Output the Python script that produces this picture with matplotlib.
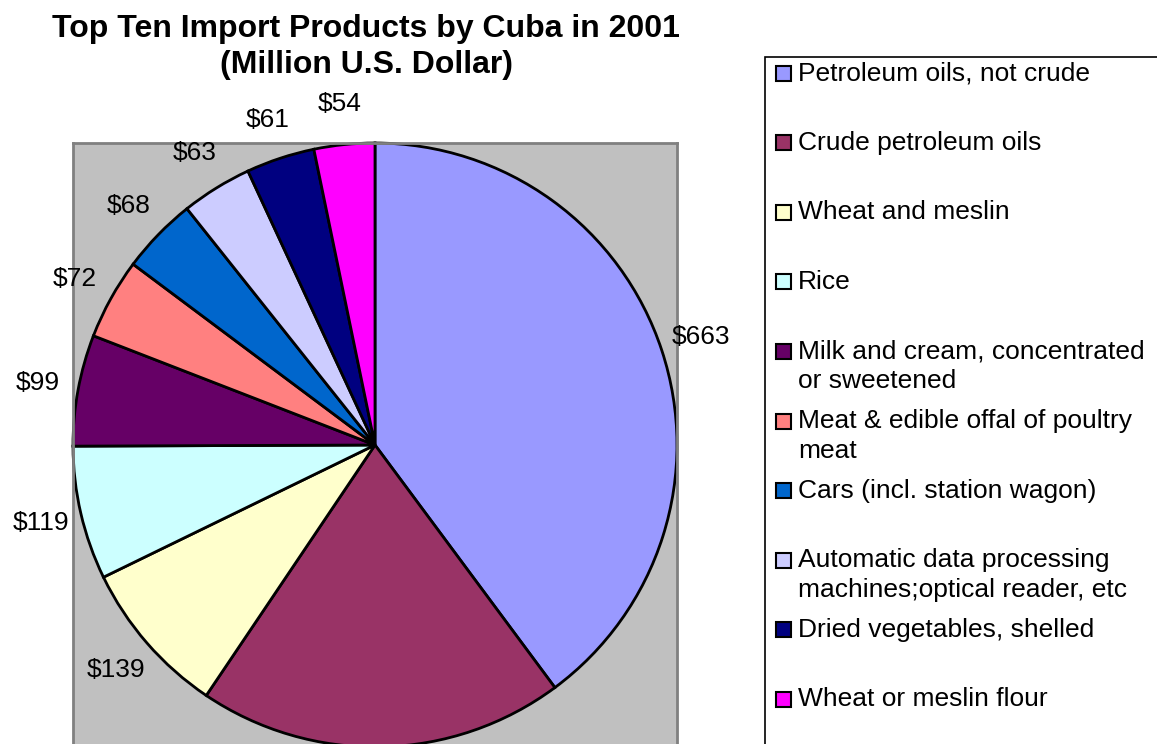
import numpy as np
import matplotlib.pyplot as plt
from matplotlib.patches import Rectangle

plt.rcParams['font.family'] = ['Liberation Sans', 'DejaVu Sans']

products = [
    'Petroleum oils, not crude',
    'Crude petroleum oils',
    'Wheat and meslin',
    'Rice',
    'Milk and cream, concentrated\nor sweetened',
    'Meat & edible offal of poultry\nmeat',
    'Cars (incl. station wagon)',
    'Automatic data processing\nmachines;optical reader, etc',
    'Dried vegetables, shelled',
    'Wheat or meslin flour',
]
values = [663, 326, 139, 119, 99, 72, 68, 63, 61, 54]
colors = ['#9999FF', '#993366', '#FFFFCC', '#CCFFFF', '#660066',
          '#FF8080', '#0066CC', '#CCCCFF', '#000080', '#FF00FF']
# value labels; the crude oil one sits below the visible area in the original
value_labels = ['$%d' % v for v in values]
value_labels[1] = ''

W, H = 1157, 744
fig = plt.figure(figsize=(W / 100, H / 100), dpi=100)


def fx(px):
    return px / W


def fy(py):
    # pixel row from top -> figure fraction
    return 1 - py / H


# plot area (grey square) holding the pie
ax = fig.add_axes([fx(73), fy(747), fx(604), 604 / H])
ax.set_facecolor('#C0C0C0')
wedges, _ = ax.pie(values, colors=colors, startangle=90, counterclock=False,
                   radius=1, frame=True,
                   wedgeprops=dict(edgecolor='black', linewidth=2))
ax.set_xlim(-1, 1)
ax.set_ylim(-1, 1)
ax.set_xticks([])
ax.set_yticks([])
for s in ax.spines.values():
    s.set_color('#808080')
    s.set_linewidth(2)

for w, lab in zip(wedges, value_labels):
    if not lab:
        continue
    mid = np.deg2rad((w.theta1 + w.theta2) / 2)
    ax.text(1.135 * np.cos(mid), 1.135 * np.sin(mid), lab,
            ha='center', va='center', fontsize=19, clip_on=False)

fig.text(fx(366), fy(47), 'Top Ten Import Products by Cuba in 2001\n(Million U.S. Dollar)',
         ha='center', va='center', fontsize=23, fontweight='bold',
         linespacing=1.3)

# legend box
fig.patches.append(Rectangle((fx(765), fy(760)), fx(420), 703 / H,
                             transform=fig.transFigure, facecolor='white',
                             edgecolor='black', linewidth=1.2))
for i, (name, c) in enumerate(zip(products, colors)):
    y = 73 + 69.6 * i
    fig.patches.append(Rectangle((fx(776), fy(y + 7.5)), fx(15), 15 / H,
                                 transform=fig.transFigure, facecolor=c,
                                 edgecolor='black', linewidth=1.5))
    first, _, rest = name.partition('\n')
    fig.text(fx(798), fy(y), first, ha='left', va='center', fontsize=19)
    if rest:
        fig.text(fx(798), fy(y + 30), rest, ha='left', va='center', fontsize=19)

fig.savefig('out.png', dpi=100)
